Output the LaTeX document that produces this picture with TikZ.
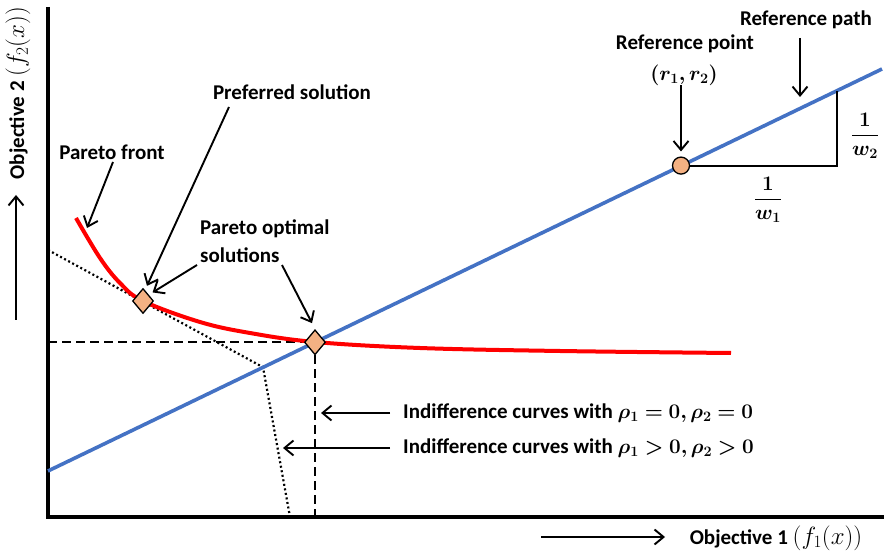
\documentclass[tikz,border=0pt]{standalone}
\usepackage{amsmath}
\usepackage{bm}
\usepackage{fontspec}
\setmainfont{Carlito}
\usetikzlibrary{shapes.geometric,arrows.meta,calc}
\definecolor{refblue}{HTML}{4472C4}
\definecolor{ptfill}{HTML}{F4B183}
\newcommand{\mfs}[1]{{\fontsize{#1}{24}\selectfont}}
\begin{document}
\begin{tikzpicture}[x=1pt,y=-1pt,
  txt/.style={font=\fontsize{21}{25}\selectfont\bfseries, inner sep=0pt},
  axisline/.style={line width=3.8pt},
  arr/.style={line width=1.9pt, -{Straight Barb[length=9pt,width=15pt,line width=1.9pt]}},
  ptmark/.style={diamond, draw=black, line width=1.3pt, fill=ptfill, minimum width=21pt, minimum height=25pt, inner sep=0pt},
  refmark/.style={circle, draw=black, line width=1.3pt, fill=ptfill, minimum size=17pt, inner sep=0pt},
  dashline/.style={line width=2pt, dash pattern=on 9pt off 5pt},
  dotline/.style={line width=2.2pt, dash pattern=on 2pt off 2.6pt}]
\useasboundingbox (0,0) rectangle (884,553);
% axes
\coordinate (origin) at (48,517);
\coordinate (ytop) at (48,7);
\coordinate (xend) at (884,517);
\draw[axisline] (ytop) -- (origin) -- (xend);
% axis labels and arrows
\node[txt, rotate=90] (ylab) at (18,93) {Objective 2 {\fontsize{23}{25}\selectfont\mdseries$(f_2(x))$}};
\coordinate (yarrA) at (16,320);
\coordinate (yarrB) at (16,195);
\draw[arr] (yarrA) -- (yarrB);
\node[txt] (xlab) at (776,538) {Objective 1 {\fontsize{23}{25}\selectfont\mdseries$(f_1(x))$}};
\coordinate (xarrA) at (541,537);
\coordinate (xarrB) at (665,537);
\draw[arr] (xarrA) -- (xarrB);
% reference path (blue line)
\coordinate (bA) at (48,471);
\coordinate (bB) at (882,69);
% dotted indifference curve
\coordinate (dA) at (48,250);
\coordinate (dK) at (263,367.2);
\coordinate (dB) at (290,517);
\draw[dotline] (dA) -- (dK) -- (dB);
% dashed indifference curve
\coordinate (hA) at (48,342.3);
\coordinate (vB) at (315,517);
\draw[dashline] (hA) -- (315,342.3) -- (vB);
% blue line
\draw[refblue, line width=3.6pt] (bA) -- (bB);
% red pareto front
\draw[red, line width=4pt] plot[smooth, tension=0.6] coordinates {(76,218) (100,258) (120,283) (143,301) (200,322) (250,333) (315,342) (420,348) (560,351) (731,353)};
% weight triangle
\coordinate (tC) at (837,165.6);
\coordinate (tT) at (837,90.7);
% markers
\node[ptmark] (d1) at (143,301) {};
\node[ptmark] (d2) at (315,342.3) {};
\node[refmark] (rp) at (681,165.6) {};
\draw[line width=2pt] (rp.east) -- (tC) -- (tT);
% fraction labels
\node[txt] (fw1) at (768,200) {$\displaystyle\frac{\bm{1}}{\bm{w_1}}$};
\node[txt] (fw2) at (865,136) {$\displaystyle\frac{\bm{1}}{\bm{w_2}}$};
% text labels
\node[txt, anchor=base] (reflab) at (685,50) {Reference point};
\node[txt] (rrlab) at (684,75) {$\bm{(r_1,r_2)}$};
\node[txt, anchor=base] (pathlab) at (806,26) {Reference path};
\node[txt] (frontlab) at (112,152) {Pareto front};
\node[txt] (preflab) at (292,92) {Preferred solution};
\node[txt, anchor=base west] (optlab1) at (200,235) {Pareto optimal};
\node[txt, anchor=base west] (optlab2) at (200,263) {solutions};
\node[txt, anchor=west] (ind1) at (403,413) {Indifference curves with {\fontsize{20}{24}\selectfont$\bm{\rho_1 = 0, \rho_2 = 0}$}};
\node[txt, anchor=west] (ind2) at (403,448) {Indifference curves with {\fontsize{20}{24}\selectfont$\bm{\rho_1 > 0, \rho_2 > 0}$}};
% arrows
\coordinate (a1s) at (681,85);
\draw[arr] (a1s) -- ($(rp.north)+(0,-5)$);
\coordinate (a2s) at (800,38);
\coordinate (a2e) at (800,97);
\draw[arr] (a2s) -- (a2e);
\coordinate (a3s) at (113,162);
\coordinate (a3e) at (87,228);
\draw[arr] (a3s) -- (a3e);
\coordinate (a4s) at (229,107);
\draw[arr] (a4s) -- ($(d1.north)+(4,-2)$);
\coordinate (a5s) at (197,265);
\draw[arr] (a5s) -- ($(d1.north east)+(4,-2)$);
\coordinate (a6s) at (282,265);
\draw[arr] (a6s) -- ($(d2.north)+(-3,-6)$);
\coordinate (a7s) at (390,413);
\coordinate (a7e) at (321,413);
\draw[arr] (a7s) -- (a7e);
\coordinate (a8s) at (390,448);
\coordinate (a8e) at (283,448);
\draw[arr] (a8s) -- (a8e);
\end{tikzpicture}
\end{document}
